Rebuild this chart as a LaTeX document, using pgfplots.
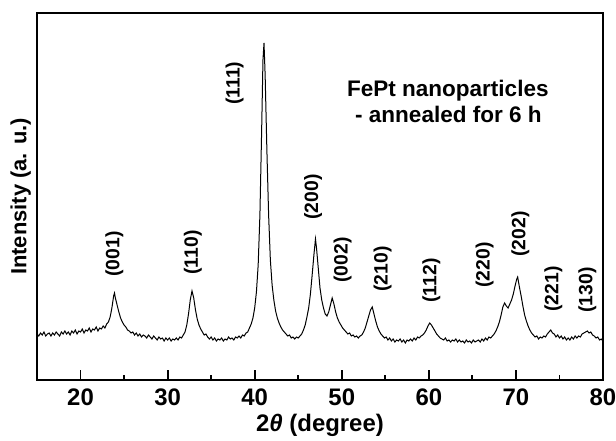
\documentclass[border=0pt]{standalone}
\usepackage{fontspec}
\setmainfont{Liberation Sans}
\usepackage{pgfplots}
\pgfplotsset{compat=1.18}

\pgfplotstableread{
x y
15.0 46
15.2 44
15.4 47
15.6 45
15.8 48
16.0 44
16.2 46
16.4 47
16.6 44
16.8 47
17.0 45
17.2 48
17.4 46
17.6 44
17.8 48
18.0 46
18.2 49
18.4 46
18.6 48
18.8 45
19.0 49
19.2 47
19.4 50
19.6 46
19.8 49
20.0 48
20.2 51
20.4 47
20.6 50
20.8 49
21.0 52
21.2 48
21.4 51
21.6 50
21.8 53
22.0 49
22.2 52
22.4 51
22.6 54
22.8 52
23.0 56
23.2 58
23.4 63
23.6 72
23.8 84
23.9 87
24.0 82
24.2 75
24.4 68
24.6 62
24.8 58
25.0 55
25.2 53
25.4 50
25.6 49
25.8 47
26.0 48
26.2 45
26.4 47
26.6 44
26.8 46
27.0 43
27.2 45
27.4 44
27.6 42
27.8 45
28.0 43
28.2 41
28.4 44
28.6 42
28.8 40
29.0 43
29.2 41
29.4 42
29.6 39
29.8 42
30.0 40
30.2 42
30.4 39
30.6 41
30.8 40
31.0 42
31.2 40
31.4 43
31.6 42
31.8 45
32.0 48
32.2 55
32.4 66
32.6 80
32.8 89
33.0 82
33.2 70
33.4 61
33.6 55
33.8 51
34.0 48
34.2 45
34.4 46
34.6 43
34.8 41
35.0 43
35.2 40
35.4 42
35.6 39
35.8 41
36.0 40
36.2 42
36.4 39
36.6 41
36.8 40
37.0 43
37.2 41
37.4 42
37.6 40
37.8 43
38.0 42
38.2 44
38.4 42
38.6 45
38.8 44
39.0 47
39.2 48
39.4 52
39.6 56
39.8 62
40.0 72
40.2 88
40.4 115
40.6 165
40.8 250
40.95 320
41.07 337
41.2 305
41.4 230
41.6 165
41.8 120
42.0 95
42.2 80
42.4 69
42.6 62
42.8 57
43.0 53
43.2 50
43.4 48
43.6 46
43.8 44
44.0 45
44.2 42
44.4 43
44.6 41
44.8 43
45.0 42
45.2 44
45.4 46
45.6 50
45.8 55
46.0 63
46.2 72
46.4 86
46.6 105
46.8 125
46.98 141
47.1 132
47.3 112
47.5 92
47.7 80
47.9 72
48.1 66
48.3 64
48.5 68
48.7 75
48.9 82
49.1 76
49.3 68
49.5 62
49.7 58
49.9 55
50.1 52
50.3 50
50.5 48
50.7 46
50.9 47
51.1 44
51.3 45
51.5 43
51.7 44
51.9 42
52.1 44
52.3 45
52.5 48
52.7 52
52.9 58
53.1 64
53.3 70
53.5 73
53.7 66
53.9 59
54.1 53
54.3 49
54.5 46
54.7 44
54.9 42
55.1 43
55.3 40
55.5 42
55.7 39
55.9 41
56.1 38
56.3 40
56.5 39
56.7 41
56.9 38
57.1 40
57.3 37
57.5 40
57.7 39
57.9 41
58.1 39
58.3 42
58.5 40
58.7 43
58.9 42
59.1 44
59.3 45
59.5 47
59.7 50
59.9 54
60.1 57
60.3 55
60.5 52
60.7 49
60.9 46
61.1 44
61.3 42
61.5 41
61.7 40
61.9 42
62.1 39
62.3 40
62.5 38
62.7 40
62.9 39
63.1 41
63.3 38
63.5 40
63.7 38
63.9 39
64.1 37
64.3 40
64.5 38
64.7 39
64.9 37
65.1 40
65.3 38
65.5 39
65.7 40
65.9 38
66.1 41
66.3 39
66.5 42
66.7 40
66.9 43
67.1 42
67.3 44
67.5 46
67.7 49
67.9 53
68.1 58
68.3 65
68.5 73
68.7 77
68.9 74
69.1 72
69.3 76
69.5 80
69.7 86
69.9 94
70.1 101
70.2 103
70.4 93
70.6 84
70.8 74
71.0 65
71.2 59
71.4 54
71.6 50
71.8 47
72.0 45
72.2 43
72.4 44
72.6 41
72.8 43
73.0 42
73.2 44
73.4 43
73.6 46
73.8 48
74.0 50
74.2 47
74.4 46
74.6 43
74.8 45
75.0 42
75.2 44
75.4 41
75.6 43
75.8 40
76.0 42
76.2 40
76.4 43
76.6 41
76.8 44
77.0 42
77.2 44
77.4 43
77.6 46
77.8 47
78.0 48
78.2 49
78.4 47
78.6 48
78.8 45
79.0 44
79.2 42
79.4 43
79.6 40
79.8 41
80.0 39
}\xrd

\begin{document}
\begin{tikzpicture}
\begin{axis}[
    scale only axis,
    width=283bp, height=183.5bp,
    xmin=15, xmax=80, ymin=0, ymax=367,
    xtick={20,30,...,80},
    minor x tick num=1,
    ytick=\empty,
    xtick pos=bottom,
    tick align=inside,
    major tick length=5bp,
    minor tick length=2.5bp,
    axis line style={line width=1bp},
    every tick/.style={line width=0.9bp, black},
    /pgf/number format/assume math mode=true,
    tick label style={font=\bfseries\fontsize{12}{14}\selectfont},
    xticklabel style={yshift=-1bp},
    xlabel={\bfseries 2{\itshape θ} (degree)},
    xlabel style={font=\fontsize{12}{14}\selectfont, yshift=3bp},
    ylabel={\bfseries Intensity (a. u.)},
    ylabel style={font=\fontsize{11}{13}\selectfont, yshift=-0.5bp},
    clip=false,
  ]
  \addplot[black, line width=0.5bp] table[x=x, y=y] {\xrd};
  \path (rel axis cs:0,0) coordinate (ll) (rel axis cs:1,1) coordinate (ur);
  \begin{scope}[every node/.style={rotate=90, anchor=west, inner sep=0pt,
      font=\bfseries\fontsize{9.7}{11}\selectfont}]
    \node at (axis cs:23.9,103) {(001)};
    \node at (axis cs:32.9,105) {(110)};
    \node at (axis cs:37.7,275) {(111)};
    \node at (axis cs:46.7,160) {(200)};
    \node at (axis cs:50.1,97) {(002)};
    \node at (axis cs:54.7,88) {(210)};
    \node at (axis cs:60.3,77) {(112)};
    \node at (axis cs:66.4,92) {(220)};
    \node at (axis cs:70.5,123) {(202)};
    \node at (axis cs:74.3,68) {(221)};
    \node at (axis cs:78.2,67) {(130)};
  \end{scope}
  \node[anchor=base west, inner sep=0pt, font=\bfseries\fontsize{11.3}{13}\selectfont]
    at (axis cs:50.57,283) {FePt nanoparticles};
  \node[anchor=base west, inner sep=0pt, font=\bfseries\fontsize{11.3}{13}\selectfont]
    at (axis cs:51.5,257) {- annealed for 6 h};
\end{axis}
\pgfresetboundingbox
\path[use as bounding box] ([shift={(-18.5bp,-30.5bp)}]ll) rectangle ([shift={(6.5bp,6.5bp)}]ur);
\end{tikzpicture}
\end{document}
